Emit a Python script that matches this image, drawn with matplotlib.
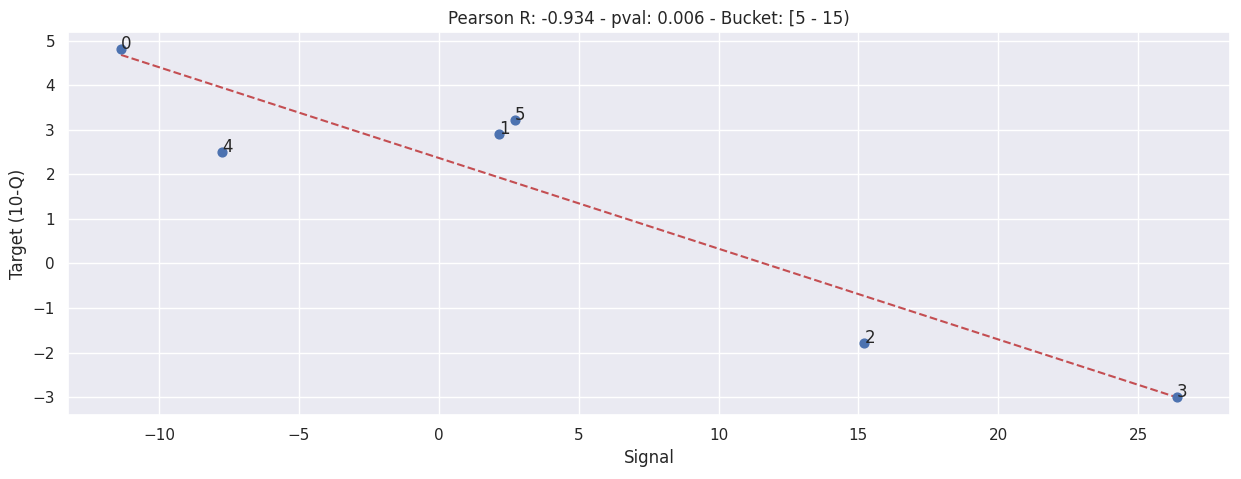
import numpy as np
import matplotlib
matplotlib.use("Agg")
import matplotlib.pyplot as plt
import seaborn as sns

sns.set_theme(style="darkgrid")

signal = [-11.36, 2.14, 15.21, 26.39, -7.75, 2.71]
target = [4.8, 2.9, -1.79, -2.99, 2.5, 3.21]
labels = ["0", "1", "2", "3", "4", "5"]

fig, ax = plt.subplots(figsize=(12.41, 4.79), dpi=100)
fig.subplots_adjust(left=0.055, right=0.991, top=0.933, bottom=0.134)
ax.scatter(signal, target, color="#4c72b0", s=40, zorder=3)
for x, y, t in zip(signal, target, labels):
    ax.annotate(t, (x, y), fontsize=12)
m, b = np.polyfit(signal, target, 1)
xs = np.array([min(signal), max(signal)])
ax.plot(xs, m * xs + b, "--", color="#c44e52")
ax.set_xlabel("Signal")
ax.set_ylabel("Target (10-Q)")
ax.set_title("Pearson R: -0.934 - pval: 0.006 - Bucket: [5 - 15)")
fig.savefig("out.png", dpi=100)
